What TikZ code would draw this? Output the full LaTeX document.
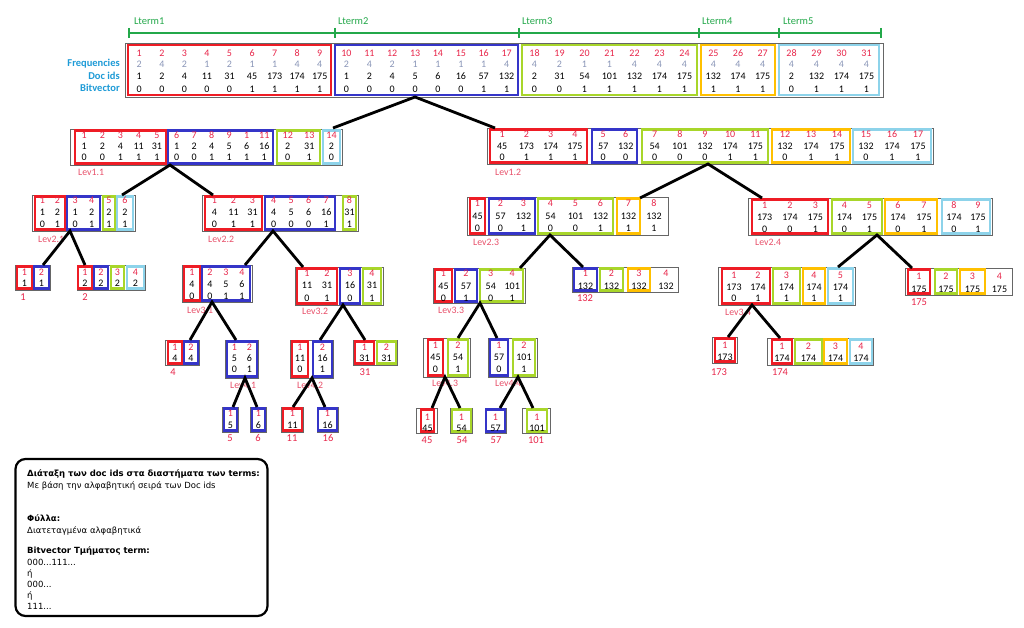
\documentclass[tikz,border=0pt]{standalone}
\usepackage{fontspec}
\setmainfont{Carlito}
\newfontfamily\legfont{DejaVu Sans}
\usetikzlibrary{calc}
\definecolor{cR}{HTML}{EE1C25}
\definecolor{cB}{HTML}{3535C8}
\definecolor{cG}{HTML}{A8D62A}
\definecolor{cO}{HTML}{FFC000}
\definecolor{cC}{HTML}{8DD3EA}
\definecolor{idxc}{HTML}{E8264A}
\definecolor{freqc}{HTML}{8A96B8}
\definecolor{ltc}{HTML}{23A84A}
\definecolor{rowc}{HTML}{1E9BD7}
\definecolor{levc}{HTML}{E8506A}
\tikzset{
  obox/.style={draw=black!60, line width=0.9pt, inner sep=0pt, rectangle},
  gbox/.style={line width=2.2pt, inner sep=0pt, rectangle},
  idxt/.style={text=idxc, inner sep=0pt, font=\fontsize{10}{11}\selectfont},
  freqt/.style={text=freqc, inner sep=0pt, font=\fontsize{10}{11}\selectfont},
  doct/.style={text=black, inner sep=0pt, font=\fontsize{10}{11}\selectfont},
  levt/.style={text=levc, inner sep=0pt, anchor=west, font=\fontsize{9.8}{11}\selectfont},
  leaft/.style={text=idxc, inner sep=0pt, font=\fontsize{10.5}{12}\selectfont},
  ltermt/.style={text=ltc, inner sep=0pt, anchor=base west, font=\fontsize{10.5}{12}\selectfont},
  ltermline/.style={draw=ltc, line width=1.6pt},
  rowt/.style={text=rowc, inner sep=0pt, anchor=base east, font=\bfseries\fontsize{10.5}{12}\selectfont},
  conn/.style={draw=black, line width=2.8pt},
  legbox/.style={draw=black, line width=2.2pt, rounded corners=10pt, inner sep=0pt, rectangle},
  legb/.style={inner sep=0pt, anchor=base west, font=\legfont\bfseries\fontsize{8.5}{10}\selectfont},
  legr/.style={inner sep=0pt, anchor=base west, font=\legfont\fontsize{8.5}{10}\selectfont},
}
\newcommand\setrows[5]{\def\gtop{#1}\def\gbot{#2}\def\rowA{#3}\def\rowB{#4}\def\rowC{#5}}
\newcommand\obox[5]{\node[obox, minimum width={#3-#2}, minimum height={#5-#4}] (#1) at ({(#2+#3)/2},{(#4+#5)/2}) {};}
\newcommand\gC[6]{%
  \node[gbox, draw=#4, minimum width={#3-#2}, minimum height={\gbot-\gtop}] (#1) at ({(#2+#3)/2},{(\gtop+\gbot)/2}) {};
  \foreach \ci/\cd/\cb [count=\k] in {#6} {
    \pgfmathsetmacro\cx{#2+(\k-0.5)*(#3-#2)/#5}
    \node[idxt] (#1i\k) at (\cx,\rowA) {\ci};
    \node[doct] (#1d\k) at (\cx,\rowB) {\cd};
    \node[doct] (#1b\k) at (\cx,\rowC) {\cb};
  }}
\newcommand\gB[6]{%
  \node[gbox, draw=#4, minimum width={#3-#2}, minimum height={\gbot-\gtop}] (#1) at ({(#2+#3)/2},{(\gtop+\gbot)/2}) {};
  \foreach \ci/\cd [count=\k] in {#6} {
    \pgfmathsetmacro\cx{#2+(\k-0.5)*(#3-#2)/#5}
    \node[idxt] (#1i\k) at (\cx,\rowA) {\ci};
    \node[doct] (#1d\k) at (\cx,\rowB) {\cd};
  }}
\newcommand\gD[6]{%
  \node[gbox, draw=#4, minimum width={#3-#2}, minimum height={\gbot-\gtop}] (#1) at ({(#2+#3)/2},{(\gtop+\gbot)/2}) {};
  \foreach \ci/\cf/\cd/\cb [count=\k] in {#6} {
    \pgfmathsetmacro\cx{#2+(\k-0.5)*(#3-#2)/#5}
    \node[idxt] (#1i\k) at (\cx,\rowA) {\ci};
    \node[freqt] (#1f\k) at (\cx,\rowF) {\cf};
    \node[doct] (#1d\k) at (\cx,\rowB) {\cd};
    \node[doct] (#1b\k) at (\cx,\rowC) {\cb};
  }}
\begin{document}
\begin{tikzpicture}[x=1pt,y=-1pt]
\useasboundingbox (0,0) rectangle (1024,628);
\fill[white] (0,0) rectangle (1024,628);

% ---- Lterm ruler
\coordinate (lt0) at (129,33);
\coordinate (lt1) at (335,33);
\coordinate (lt2) at (519,33);
\coordinate (lt3) at (699,33);
\coordinate (lt4) at (779,33);
\coordinate (lt5) at (881,33);
\draw[ltermline] (lt0) -- (lt5);
\foreach \n in {0,...,5} \draw[ltermline] ($(lt\n)+(0,-5)$) -- ($(lt\n)+(0,5)$);
\node[ltermt] (lterm1) at (134,25) {Lterm1};
\node[ltermt] (lterm2) at (338,25) {Lterm2};
\node[ltermt] (lterm3) at (522,25) {Lterm3};
\node[ltermt] (lterm4) at (702,25) {Lterm4};
\node[ltermt] (lterm5) at (783,25) {Lterm5};

% ---- row labels
\node[rowt] (rfreq) at (120,67) {Frequencies};
\node[rowt] (rdoc) at (120,80) {Doc ids};
\node[rowt] (rbit) at (120,92) {Bitvector};

% ---- top array
\obox{T}{125}{883}{43}{97}
\setrows{45}{95}{53}{76}{89}\def\rowF{64}
\gD{TR}{128}{331}{cR}{9}{1/2/1/0, 2/4/2/0, 3/2/4/0, 4/1/11/0, 5/2/31/0, 6/1/45/1, 7/1/173/1, 8/4/174/1, 9/4/175/1}
\gD{TB}{335}{518}{cB}{8}{10/2/1/0, 11/4/2/0, 12/2/4/0, 13/1/5/0, 14/1/6/0, 15/1/16/0, 16/1/57/1, 17/4/132/1}
\gD{TG}{522}{697}{cG}{7}{18/4/2/0, 19/2/31/0, 20/1/54/1, 21/1/101/1, 22/4/132/1, 23/4/174/1, 24/4/175/1}
\gD{TO}{701}{775}{cO}{3}{25/4/132/1, 26/4/174/1, 27/4/175/1}
\gD{TC}{779}{879}{cC}{4}{28/4/2/0, 29/4/132/1, 30/4/174/1, 31/4/175/1}

% ---- level 1
\obox{L11}{70}{342}{129}{165}
\setrows{130.5}{163.5}{135}{146}{157}
\gC{L11R}{75}{166}{cR}{5}{1/1/0, 2/2/0, 3/4/1, 4/11/1, 5/31/1}
\gC{L11B}{168}{273}{cB}{6}{6/1/0, 7/2/0, 8/4/1, 9/5/1, 1/6/1, 11/16/1}
\gC{L11G}{277}{320}{cG}{2}{12/2/0, 13/31/1}
\gC{L11C}{323}{340}{cC}{1}{14/2/0}
\node[levt] (lab11) at (78,172) {Lev1.1};

\obox{L12}{487}{933}{128}{164}
\setrows{129.5}{162.5}{134}{146}{157}
\gC{L12R}{490}{587}{cR}{4}{1/45/0, 2/173/1, 3/174/1, 4/175/1}
\gC{L12B}{592}{637}{cB}{2}{5/57/0, 6/132/0}
\gC{L12G}{642}{768}{cG}{5}{7/54/0, 8/101/0, 9/132/0, 10/174/1, 11/175/1}
\gC{L12O}{772}{850}{cO}{3}{12/132/0, 13/174/1, 14/175/1}
\gC{L12C}{853}{931}{cC}{3}{15/132/0, 16/174/1, 17/175/1}
\node[levt] (lab12) at (495,172) {Lev1.2};

% ---- level 2
\obox{L21}{32}{135}{195}{231}
\setrows{196.5}{229.5}{200.5}{212}{224}
\gC{L21R}{35}{65}{cR}{2}{1/1/0, 2/2/1}
\gC{L21B}{67}{100}{cB}{2}{3/1/0, 4/2/1}
\gC{L21G}{103}{115}{cG}{1}{5/2/1}
\gC{L21C}{117}{133}{cC}{1}{6/2/1}
\node[levt] (lab21) at (38,239) {Lev2.1};

\obox{L22}{202}{358}{195}{231}
\gC{L22R}{205}{262}{cR}{3}{1/4/0, 2/11/1, 3/31/1}
\gC{L22B}{265}{335}{cB}{4}{4/4/0, 5/5/0, 6/6/0, 7/16/1}
\gC{L22G}{343}{356}{cG}{1}{8/31/1}
\node[levt] (lab22) at (208,239) {Lev2.2};

\obox{L23}{467}{668}{197}{235}
\setrows{198.5}{233.5}{203}{216}{228}
\gC{L23R}{470}{485}{cR}{1}{1/45/0}
\gC{L23B}{489}{535}{cB}{2}{2/57/0, 3/132/1}
\gC{L23G}{538}{613}{cG}{3}{4/54/0, 5/101/0, 6/132/1}
\gC{L23O}{617}{640}{cO}{1}{7/132/1}
\gC{L23N}{642}{666}{none}{1}{8/132/1}
\node[levt] (lab23) at (473,242) {Lev2.3};

\obox{L24}{748}{992}{198}{235}
\setrows{199.5}{233.5}{205}{217}{229}
\gC{L24R}{752}{828}{cR}{3}{1/173/0, 2/174/0, 3/175/1}
\gC{L24G}{832}{882}{cG}{2}{4/174/0, 5/175/1}
\gC{L24O}{885}{937}{cO}{2}{6/174/0, 7/175/1}
\gC{L24C}{942}{990}{cC}{2}{8/174/0, 9/175/1}
\node[levt] (lab24) at (755,242) {Lev2.4};

% ---- level 3
\obox{X1}{15}{50}{265}{290}
\setrows{266.5}{288.5}{272}{283}{0}
\gB{X1R}{17}{32}{cR}{1}{1/1}
\gB{X1B}{34}{49}{cB}{1}{2/1}
\node[leaft] (lx1) at (23,297) {1};

\obox{X2}{77}{145}{265}{290}
\gB{X2R}{78}{92}{cR}{1}{1/2}
\gB{X2B}{94}{108}{cB}{1}{2/2}
\gB{X2G}{111}{124}{cG}{1}{3/2}
\gB{X2C}{127}{144}{cC}{1}{4/2}
\node[leaft] (lx2) at (85,297) {2};

\obox{L31}{182}{252}{265}{302}
\setrows{266.5}{300.5}{272}{284}{296}
\gC{L31R}{184}{200}{cR}{1}{1/4/0}
\gC{L31B}{202}{250}{cB}{3}{2/4/0, 3/5/1, 4/6/1}
\node[levt] (lab31) at (187,310) {Lev3.1};

\obox{L32}{295}{383}{267}{305}
\setrows{268.5}{303.5}{273}{285}{298}
\gC{L32R}{297}{337}{cR}{2}{1/11/0, 2/31/1}
\gC{L32B}{340}{360}{cB}{1}{3/16/0}
\gC{L32G}{363}{381}{cG}{1}{4/31/1}
\node[levt] (lab32) at (302,311) {Lev3.2};

\obox{L33}{433}{525}{268}{303}
\setrows{269.5}{301.5}{273}{286}{298}
\gC{L33R}{435}{452}{cR}{1}{1/45/0}
\gC{L33B}{455}{477}{cB}{1}{2/57/1}
\gC{L33G}{480}{523}{cG}{2}{3/54/0, 4/101/1}
\node[levt] (lab33) at (438,310) {Lev3.3};

\obox{X132}{572}{678}{267}{292}
\setrows{268.5}{290.5}{273}{286}{0}
\gB{X132B}{574}{597}{cB}{1}{1/132}
\gB{X132G}{600}{623}{cG}{1}{2/132}
\gB{X132O}{628}{650}{cO}{1}{3/132}
\gB{X132N}{654}{678}{none}{1}{4/132}
\node[leaft] (lx132) at (585,298) {132};

\obox{L34}{718}{855}{267}{305}
\setrows{268.5}{303.5}{275}{287}{298}
\gC{L34R}{722}{770}{cR}{2}{1/173/0, 2/174/1}
\gC{L34G}{773}{800}{cG}{1}{3/174/1}
\gC{L34O}{803}{825}{cO}{1}{4/174/1}
\gC{L34C}{828}{853}{cC}{1}{5/174/1}
\node[levt] (lab34) at (725,312) {Lev3.4};

\obox{X175}{905}{1012}{268}{295}
\setrows{269.5}{293.5}{276}{289}{0}
\gB{X175R}{908}{930}{cR}{1}{1/175}
\gB{X175G}{935}{957}{cG}{1}{2/175}
\gB{X175O}{960}{985}{cO}{1}{3/175}
\gB{X175N}{988}{1011}{none}{1}{4/175}
\node[leaft] (lx175) at (919,302) {175};

% ---- level 4
\obox{X4}{165}{199}{340}{365}
\setrows{341.5}{363.5}{347}{358}{0}
\gB{X4R}{168}{182}{cR}{1}{1/4}
\gB{X4B}{184}{198}{cB}{1}{2/4}
\node[leaft] (lx4) at (173,372) {4};

\obox{X31}{353}{397}{340}{365}
\gB{X31R}{355}{374}{cR}{1}{1/31}
\gB{X31G}{377}{396}{cG}{1}{2/31}
\node[leaft] (lx31) at (365,372) {31};

\obox{L41}{225}{258}{340}{378}
\setrows{341.5}{376.5}{347}{358}{369}
\gC{L41B}{227}{257}{cB}{2}{1/5/0, 2/6/1}
\node[levt] (lab41) at (230,385) {Lev4.1};

\obox{L42}{290}{333}{340}{378}
\gC{L42R}{292}{308}{cR}{1}{1/11/0}
\gC{L42B}{313}{332}{cB}{1}{2/16/1}
\node[levt] (lab42) at (297,385) {Lev4.2};

\obox{L43}{423}{470}{338}{377}
\setrows{339.5}{375.5}{345}{357}{369}
\gC{L43R}{428}{443}{cR}{1}{1/45/0}
\gC{L43G}{448}{468}{cG}{1}{2/54/1}
\node[levt] (lab43) at (432,383) {Lev4.3};

\obox{L44}{488}{537}{338}{377}
\gC{L44B}{490}{508}{cB}{1}{1/57/0}
\gC{L44G}{513}{535}{cG}{1}{2/101/1}
\node[levt] (lab44) at (495,383) {Lev4.4};

\obox{X173}{712}{737}{337}{363}
\setrows{338.5}{361.5}{345}{357}{0}
\gB{X173R}{715}{735}{cR}{1}{1/173}
\node[leaft] (lx173) at (719,372) {173};

\obox{X174}{767}{873}{338}{365}
\setrows{339.5}{363.5}{346}{358}{0}
\gB{X174R}{772}{792}{cR}{1}{1/174}
\gB{X174G}{795}{822}{cG}{1}{2/174}
\gB{X174O}{824}{847}{cO}{1}{3/174}
\gB{X174C}{850}{872}{cC}{1}{4/174}
\node[leaft] (lx174) at (780,372) {174};

% ---- level 5 leaves
\obox{X5}{222}{238}{407}{432}
\setrows{408.5}{430.5}{413}{425}{0}
\gB{X5B}{224}{237}{cB}{1}{1/5}
\node[leaft] (lx5) at (230,438) {5};
\obox{X6}{250}{266}{407}{432}
\gB{X6B}{252}{265}{cB}{1}{1/6}
\node[leaft] (lx6) at (258,438) {6};
\obox{X11}{281}{303}{407}{432}
\gB{X11R}{283}{302}{cR}{1}{1/11}
\node[leaft] (lx11) at (292,438) {11};
\obox{X16}{317}{338}{407}{432}
\gB{X16B}{318}{337}{cB}{1}{1/16}
\node[leaft] (lx16) at (328,438) {16};

\obox{X45}{416}{437}{408}{433}
\setrows{409.5}{431.5}{417}{428}{0}
\gB{X45R}{421}{434}{cR}{1}{1/45}
\node[leaft] (lx45) at (427,440) {45};
\obox{X54}{450}{472}{408}{433}
\gB{X54G}{452}{471}{cG}{1}{1/54}
\node[leaft] (lx54) at (462,440) {54};
\obox{X57}{485}{506}{408}{433}
\gB{X57B}{486}{505}{cB}{1}{1/57}
\node[leaft] (lx57) at (496,440) {57};
\obox{X101}{522}{550}{408}{433}
\gB{X101G}{527}{547}{cG}{1}{1/101}
\node[leaft] (lx101) at (536,440) {101};

% ---- connectors
\coordinate (aT) at (415,97);  \coordinate (eT1) at (333,128); \coordinate (eT2) at (495,128);
\draw[conn] (eT1) -- (aT) -- (eT2);
\coordinate (a11) at (170,165); \coordinate (e11a) at (122,195); \coordinate (e11b) at (213,195);
\draw[conn] (e11a) -- (a11) -- (e11b);
\coordinate (a12) at (708,164); \coordinate (e12a) at (640,198); \coordinate (e12b) at (762,198);
\draw[conn] (e12a) -- (a12) -- (e12b);
\coordinate (a21) at (70,231); \coordinate (e21a) at (43,265); \coordinate (e21b) at (85,265);
\draw[conn] (e21a) -- (a21) -- (e21b);
\coordinate (a22) at (273,231); \coordinate (e22a) at (245,265); \coordinate (e22b) at (303,267);
\draw[conn] (e22a) -- (a22) -- (e22b);
\coordinate (a23) at (550,235); \coordinate (e23a) at (520,268); \coordinate (e23b) at (583,267);
\draw[conn] (e23a) -- (a23) -- (e23b);
\coordinate (a24) at (877,235); \coordinate (e24a) at (838,267); \coordinate (e24b) at (912,268);
\draw[conn] (e24a) -- (a24) -- (e24b);
\coordinate (a31) at (212,302); \coordinate (e31a) at (190,340); \coordinate (e31b) at (236,340);
\draw[conn] (e31a) -- (a31) -- (e31b);
\coordinate (a32) at (343,305); \coordinate (e32a) at (320,340); \coordinate (e32b) at (365,340);
\draw[conn] (e32a) -- (a32) -- (e32b);
\coordinate (a33) at (480,303); \coordinate (e33a) at (458,338); \coordinate (e33b) at (497,338);
\draw[conn] (e33a) -- (a33) -- (e33b);
\coordinate (a34) at (752,305); \coordinate (e34a) at (728,337); \coordinate (e34b) at (780,338);
\draw[conn] (e34a) -- (a34) -- (e34b);
\coordinate (a41) at (245,378); \coordinate (e41a) at (233,407); \coordinate (e41b) at (257,407);
\draw[conn] (e41a) -- (a41) -- (e41b);
\coordinate (a42) at (312,378); \coordinate (e42a) at (293,407); \coordinate (e42b) at (325,407);
\draw[conn] (e42a) -- (a42) -- (e42b);
\coordinate (a43) at (445,377); \coordinate (e43a) at (432,408); \coordinate (e43b) at (460,408);
\draw[conn] (e43a) -- (a43) -- (e43b);
\coordinate (a44) at (518,377); \coordinate (e44a) at (500,408); \coordinate (e44b) at (533,408);
\draw[conn] (e44a) -- (a44) -- (e44b);

% ---- legend
\node[legbox, minimum width=252, minimum height=157] (leg) at (141.5,537.5) {};
\node[legb] (g1) at (27,476) {Διάταξη των doc ids στα διαστήματα των terms:};
\node[legr] (g2) at (27,488) {Με βάση την αλφαβητική σειρά των Doc ids};
\node[legb] (g3) at (27,521) {Φύλλα:};
\node[legr] (g4) at (27,533) {Διατεταγμένα αλφαβητικά};
\node[legb] (g5) at (27,553) {Bitvector Τμήματος term:};
\node[legr] (g6) at (27,565) {000...111...};
\node[legr] (g7) at (27,576) {ή};
\node[legr] (g8) at (27,587) {000...};
\node[legr] (g9) at (27,598) {ή};
\node[legr] (g10) at (27,609) {111...};
\end{tikzpicture}
\end{document}
